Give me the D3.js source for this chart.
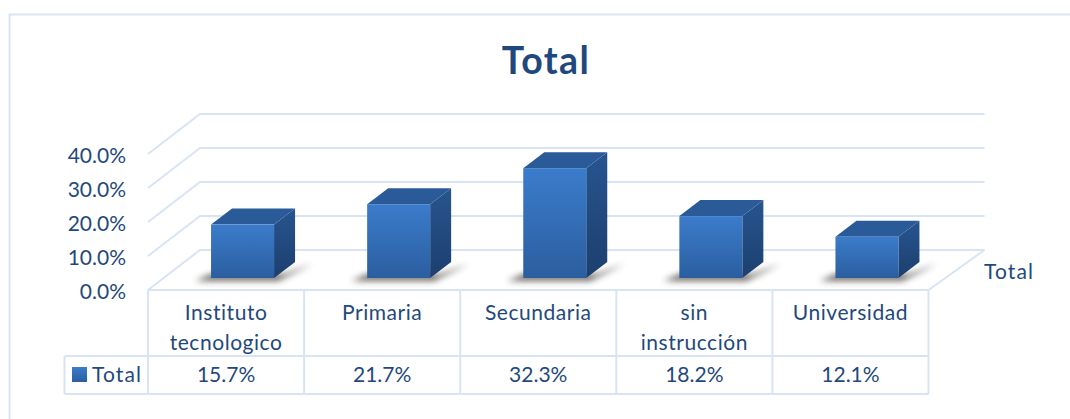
<!DOCTYPE html>
<html><head><meta charset="utf-8">
<script src="https://cdn.jsdelivr.net/npm/d3@7"></script>
<style>html,body{margin:0;padding:0;background:#fff;overflow:hidden}svg{display:block}text{font-family:Lato,"Open Sans",sans-serif;fill:#1f497d}</style>
</head><body><svg id="c" width="1070" height="419"></svg>
<script>
const categories = ["Instituto tecnologico","Primaria","Secundaria","sin instrucción","Universidad"];
const categoryLines = [["Instituto","tecnologico"],["Primaria"],["Secundaria"],["sin","instrucción"],["Universidad"]];
const values = [15.7,21.7,32.3,18.2,12.1];
const valueLabels = ["15.7%","21.7%","32.3%","18.2%","12.1%"];
const yTicks = [0,10,20,30,40];
const seriesName = "Total";
const chartTitle = "Total";

const gridC="#d8e4f4";
const svg=d3.select("#c");
const defs=svg.append("defs");
const g1=defs.append("linearGradient").attr("id","front").attr("x1",0).attr("x2",0).attr("y1",0).attr("y2",1);
g1.append("stop").attr("offset",0).attr("stop-color","#3b7ccb");
g1.append("stop").attr("offset",1).attr("stop-color","#2b5e9f");
const g2=defs.append("linearGradient").attr("id","side").attr("x1",0).attr("x2",0).attr("y1",0).attr("y2",1);
g2.append("stop").attr("offset",0).attr("stop-color","#27558f");
g2.append("stop").attr("offset",1).attr("stop-color","#1c3f6e");
defs.append("filter").attr("id","blur").attr("x","-30%").attr("y","-100%").attr("width","160%").attr("height","300%")
  .append("feGaussianBlur").attr("stdDeviation",3);

// outer frame: left and top edges only, the top runs off the picture
svg.append("path").attr("d","M9.5 419V14.5H1070").attr("fill","none").attr("stroke","#dbe6f5").attr("stroke-width",2);

svg.append("text").attr("x",546).attr("y",74).attr("text-anchor","middle").attr("font-size",37.5).attr("font-weight",700).attr("letter-spacing",1.4).text(chartTitle);

const x0=148, x1=928.5, dx=52, dy=-40;
const y=d3.scaleLinear().domain([0,40]).range([290,154]);
const band=d3.scaleBand().domain(categories).range([x0,x1]);
const barW=63, depthX=21, depthY=-16, floorLift=12, barShift=16.5;

// wall gridlines
const grid=svg.append("g").attr("fill","none").attr("stroke",gridC).attr("stroke-width",2);
yTicks.forEach(t=>{
  grid.append("path").attr("d",`M${x0} ${y(t)}L${x0+dx} ${y(t)+dy}H${x1+dx+4}`);
});
// floor front and right edge
grid.append("path").attr("d",`M${x0} ${y(0)}H${x1}L${x1+dx+4} ${y(0)+dy}`);

// y labels
svg.append("g").selectAll("text").data(yTicks).join("text")
  .attr("x",126).attr("y",t=>y(t)+8.5).attr("text-anchor","end").attr("font-size",21)
  .text(t=>d3.format(".1f")(t)+"%");

// bars
const yBar=v=>y(v)-floorLift;
const bars=svg.append("g").selectAll("g").data(categories).join("g")
  .attr("transform",c=>`translate(${band(c)+(band.bandwidth()-barW)/2+barShift},0)`);
bars.append("path").attr("fill","#5f5a54").attr("opacity",.9).attr("filter","url(#blur)")
  .attr("d",`M-16 ${yBar(0)+3}L0 ${yBar(0)-4}H${barW+10}L${barW+depthX+17} ${yBar(0)+depthY+2}L${barW+4} ${yBar(0)+3}Z`);
bars.append("path").attr("fill","url(#side)")
  .attr("d",(c,i)=>`M${barW} ${yBar(values[i])}L${barW+depthX} ${yBar(values[i])+depthY}V${yBar(0)+depthY}L${barW} ${yBar(0)}Z`);
bars.append("path").attr("fill","#2a5b98")
  .attr("d",(c,i)=>`M0 ${yBar(values[i])}L${depthX} ${yBar(values[i])+depthY}H${barW+depthX}L${barW} ${yBar(values[i])}Z`);
bars.append("rect").attr("fill","url(#front)").attr("x",0).attr("width",barW)
  .attr("y",(c,i)=>yBar(values[i])).attr("height",(c,i)=>yBar(0)-yBar(values[i]));

svg.append("text").attr("x",984).attr("y",279).attr("font-size",21).attr("letter-spacing",1.1).text(seriesName);

// data table
const rowTop=356, rowBot=394, legX=64.5;
const tb=svg.append("g").attr("fill","none").attr("stroke",gridC).attr("stroke-width",2);
tb.append("path").attr("d",`M${legX} ${rowTop}H${x1}M${legX} ${rowBot}H${x1}M${legX} ${rowTop}V${rowBot}`);
band.domain().forEach(c=>tb.append("path").attr("d",`M${band(c)} ${y(0)}V${rowBot}`));
tb.append("path").attr("d",`M${x1} ${y(0)}V${rowBot}`);

const cols=svg.append("g").selectAll("g").data(categories).join("g")
  .attr("transform",c=>`translate(${band(c)+band.bandwidth()/2},0)`).attr("text-anchor","middle").attr("font-size",21);
cols.each(function(c,i){
  const s=d3.select(this);
  categoryLines[i].forEach((l,j)=>s.append("text").attr("y",320+j*29.5).attr("letter-spacing",0.55).text(l));
  s.append("text").attr("y",382).text(valueLabels[i]);
});
svg.append("rect").attr("x",72).attr("y",367).attr("width",15).attr("height",15).attr("fill","url(#front)");
svg.append("text").attr("x",92).attr("y",382).attr("font-size",21).attr("letter-spacing",1.1).text(seriesName);
</script></body></html>
